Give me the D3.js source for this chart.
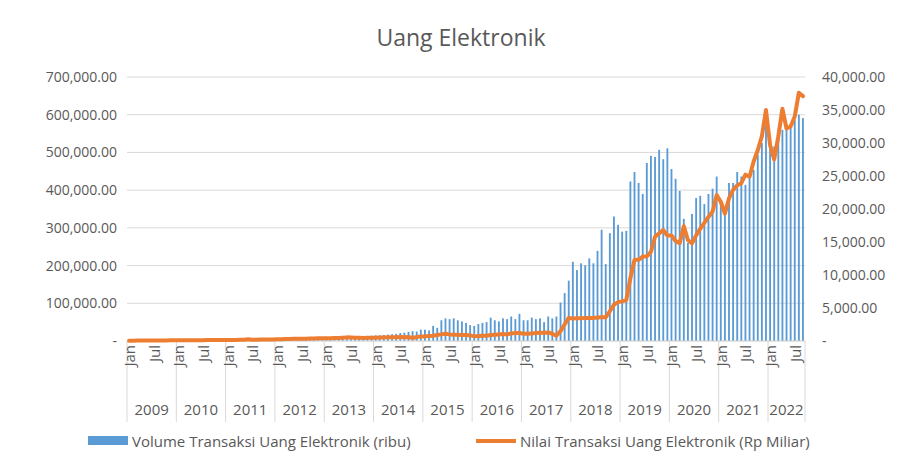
<!DOCTYPE html>
<html><head><meta charset="utf-8">
<script src="https://cdn.jsdelivr.net/npm/d3@7"></script>
<style>body{margin:0;background:#fff}text{font-family:"Open Sans",Lato,sans-serif;fill:#595959}</style>
</head><body><script>
// monthly data, Jan 2009 - Sep 2022
const years = [2009,2010,2011,2012,2013,2014,2015,2016,2017,2018,2019,2020,2021,2022];
const volume = [
 1,1,1,1,2,2,2,2,2,2,2,2,
 2,2,2,3,3,3,3,3,3,3,3,3,
 3,3,4,4,4,4,4,5,5,5,5,5,
 5,5,6,6,6,7,7,7,7,8,8,8,
 9,10,10,11,11,12,12,12,13,13,13,14,
 15,15,16,17,18,19,21,22,24,26,25,30,
 30,28,40,35,55,60,58,60,55,52,48,42,
 40,45,48,50,62,55,52,60,58,65,58,72,
 55,55,62,58,60,50,65,60,65,102,127,160,
 210,188,206,201,219,206,239,295,204,286,330,308,
 290,292,423,448,419,390,472,491,488,507,482,511,
 456,430,398,324,260,337,379,385,363,390,404,436,
 365,357,419,419,448,436,414,436,454,494,525,578,
 542,516,551,560,560,569,587,600,591
].map(v => v * 1000);
const nilai = [
 50,50,60,60,70,70,80,80,90,90,100,100,
 100,110,110,120,120,130,130,140,140,150,150,160,
 160,170,170,180,190,250,200,200,210,220,230,240,
 250,260,300,320,330,330,340,350,360,380,400,420,
 420,430,440,450,500,550,520,500,480,470,480,500,
 500,520,530,550,560,580,600,580,600,450,600,700,
 700,750,800,900,1000,1100,1000,950,950,900,900,850,
 700,750,800,800,900,950,1000,1050,1000,1150,1200,1200,
 1100,1100,1150,1200,1250,1250,1300,1100,800,1500,2500,3500,
 3400,3450,3450,3500,3500,3500,3550,3600,3600,4500,5500,5900,
 6000,6200,9500,12300,12300,12800,12800,13500,15800,16300,16800,16000,
 16000,15150,14800,17400,15300,14800,16000,17000,17900,18800,19600,22100,
 21100,19300,21600,22900,23600,23900,25200,24900,27200,28900,31000,35000,
 29700,27500,31000,35200,32200,32500,34000,37600,37100
];
const leftTicks = [0,100000,200000,300000,400000,500000,600000,700000];
const rightTicks = [0,5000,10000,15000,20000,25000,30000,35000,40000];
const monthLabels = {0:"Jan",6:"Jul"};

const W = 921, H = 475;
const m = { left: 127, right: 805, top: 77, bottom: 341 };
const n = volume.length;

const svg = d3.select("body").append("svg").attr("width", W).attr("height", H);

const x = d3.scaleBand().domain(d3.range(n)).range([m.left, m.right]);
const yL = d3.scaleLinear().domain([0, 700000]).range([m.bottom, m.top]);
const yR = d3.scaleLinear().domain([0, 40000]).range([m.bottom, m.top]);
const fmt = d3.format(",.2f");

svg.append("text").attr("x", 461).attr("y", 46).attr("text-anchor", "middle")
  .style("font-size", "23px").text("Uang Elektronik");

// gridlines
svg.append("g").selectAll("line").data(leftTicks).join("line")
  .attr("x1", m.left).attr("x2", m.right)
  .attr("y1", d => yL(d)).attr("y2", d => yL(d))
  .attr("stroke", "#d9d9d9");

svg.append("g").selectAll("text").data(leftTicks).join("text")
  .attr("x", 117).attr("y", d => yL(d) + 5).attr("text-anchor", "end")
  .style("font-size", "14px").text(d => d === 0 ? "-" : fmt(d));

svg.append("g").selectAll("text").data(rightTicks).join("text")
  .attr("x", 822).attr("y", d => yR(d) + 5)
  .style("font-size", "14px").text(d => d === 0 ? "-" : fmt(d));

// bars
svg.append("g").selectAll("rect").data(volume).join("rect")
  .attr("x", (d, i) => x(i) + x.bandwidth() * 0.28)
  .attr("width", x.bandwidth() * 0.45)
  .attr("y", d => yL(d)).attr("height", d => yL(0) - yL(d))
  .attr("fill", "#5b9bd5");

// x axis
svg.append("line").attr("x1", m.left).attr("x2", m.right)
  .attr("y1", m.bottom).attr("y2", m.bottom).attr("stroke", "#d9d9d9");
const bounds = years.map((y, i) => i * 12).concat([n]);
svg.append("g").selectAll("line").data(bounds).join("line")
  .attr("x1", d => d === n ? m.right : x(d)).attr("x2", d => d === n ? m.right : x(d))
  .attr("y1", m.bottom).attr("y2", 422).attr("stroke", "#d9d9d9");

svg.append("g").selectAll("text")
  .data(d3.range(n).filter(i => monthLabels[i % 12]))
  .join("text")
  .attr("transform", i => `translate(${x(i) + x.bandwidth() / 2 + 6},345) rotate(-90)`)
  .attr("text-anchor", "end").style("font-size", "15px")
  .text(i => monthLabels[i % 12]);

svg.append("g").selectAll("text").data(years).join("text")
  .attr("x", (d, i) => (x(i * 12) + (i * 12 + 12 >= n ? m.right : x(i * 12 + 12))) / 2)
  .attr("y", 415).attr("text-anchor", "middle").style("font-size", "15px")
  .text(d => d);

// line
const line = d3.line().x((d, i) => x(i) + x.bandwidth() / 2).y(d => yR(d));
svg.append("path").datum(nilai).attr("d", line)
  .attr("fill", "none").attr("stroke", "#ed7d31").attr("stroke-width", 4)
  .attr("stroke-linejoin", "round").attr("stroke-linecap", "round");

// legend
svg.append("rect").attr("x", 88).attr("y", 436).attr("width", 40).attr("height", 9).attr("fill", "#5b9bd5");
svg.append("text").attr("x", 132).attr("y", 447).style("font-size", "15px")
  .text("Volume Transaksi Uang Elektronik (ribu)");
svg.append("line").attr("x1", 476).attr("x2", 516).attr("y1", 441).attr("y2", 441)
  .attr("stroke", "#ed7d31").attr("stroke-width", 4);
svg.append("text").attr("x", 520).attr("y", 447).style("font-size", "15px")
  .text("Nilai Transaksi Uang Elektronik (Rp Miliar)");
</script></body></html>
